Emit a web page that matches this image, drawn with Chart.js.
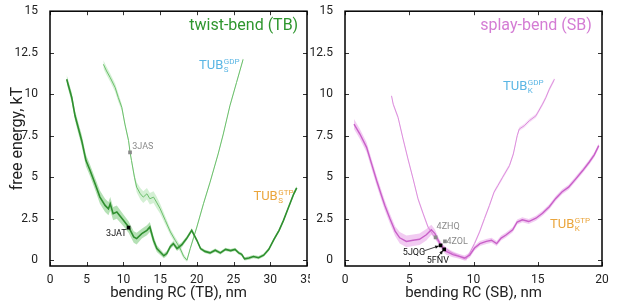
<!DOCTYPE html>
<html>
<head>
<meta charset="utf-8">
<script src="https://cdn.jsdelivr.net/npm/chart.js@4.4.1/dist/chart.umd.min.js"></script>
<style>
  body { margin: 0; background: #fff; }
  .panel { position: absolute; top: 0; height: 308px; overflow: hidden; background: #fff; }
  #tbBox { left: 0; width: 310px; }
  #sbBox { left: 310px; width: 307px; }
</style>
</head>
<body>
<div class="panel" id="tbBox"><canvas id="tb" width="317" height="308"></canvas></div>
<div class="panel" id="sbBox"><canvas id="sb" width="307" height="308"></canvas></div>
<script>
// ---- twist-bend (TB) panel ----
const tbGtpX = [2.27, 2.96, 3.41, 4.32, 4.9, 5.46, 6.14, 6.8, 7.5, 7.96, 8.2, 8.6, 9.1, 10.0, 10.7, 11.4, 11.8, 12.5, 13.2, 13.6, 14.1, 14.55, 15.5, 15.9, 16.4, 16.8, 17.3, 17.96, 18.6, 19.3, 20.0, 20.5, 21.1, 21.8, 22.5, 23.2, 23.9, 24.6, 25.2, 25.7, 26.1, 26.5, 27.1, 27.7, 28.4, 29.1, 29.8, 30.5, 31.2, 31.8, 32.5, 33.2, 33.6];
const tbGtpY = [10.9, 9.8, 8.7, 7.2, 6.0, 5.4, 4.6, 3.8, 3.3, 3.1, 3.4, 2.8, 2.9, 2.4, 2.0, 1.4, 1.3, 1.6, 1.8, 2.0, 1.2, 0.7, 0.27, 0.4, 0.83, 1.0, 0.7, 0.93, 1.3, 1.8, 1.2, 0.7, 0.53, 0.44, 0.6, 0.44, 0.65, 0.58, 0.65, 0.44, 0.35, 0.08, 0.13, 0.22, 0.15, 0.3, 0.65, 1.25, 1.8, 2.4, 3.2, 4.0, 4.35];
const tbGtpErr = [0.25, 0.3, 0.3, 0.35, 0.35, 0.35, 0.35, 0.4, 0.4, 0.4, 0.4, 0.4, 0.4, 0.35, 0.35, 0.35, 0.35, 0.3, 0.3, 0.3, 0.25, 0.2, 0.15, 0.15, 0.15, 0.15, 0.15, 0.15, 0.12, 0.12, 0.1, 0.1, 0.1, 0.1, 0.1, 0.1, 0.1, 0.1, 0.1, 0.1, 0.1, 0.1, 0.1, 0.1, 0.1, 0.1, 0.1, 0.1, 0.1, 0.1, 0.1, 0.12, 0.12];

const tbGdpX = [7.27, 7.7, 8.2, 8.87, 9.3, 9.78, 10.2, 10.7, 10.9, 11.1, 11.5, 11.8, 12.3, 12.7, 13.2, 13.6, 14.1, 14.5, 15.0, 15.7, 16.4, 17.05, 17.7, 18.2, 18.65, 19.1, 19.55, 20.0, 20.9, 21.8, 22.9, 23.6, 24.5, 25.4, 26.3];
const tbGdpY = [11.8, 11.4, 11.0, 10.4, 9.8, 9.2, 8.2, 7.2, 6.5, 6.0, 5.0, 4.4, 4.0, 3.8, 4.0, 3.7, 3.8, 3.5, 3.1, 2.4, 1.7, 1.2, 0.73, 0.23, 0.0, 0.7, 1.35, 2.0, 3.4, 4.7, 6.4, 7.6, 9.3, 10.7, 12.1];
const tbGdpErr = [0.25, 0.25, 0.25, 0.25, 0.25, 0.2, 0.15, 0.15, 0.15, 0.15, 0.2, 0.3, 0.35, 0.35, 0.35, 0.35, 0.35, 0.35, 0.3, 0.25, 0.2, 0.2, 0.2, 0.15, 0.1, 0.1, 0.1, 0.1, 0.1, 0.1, 0.1, 0.1, 0.1, 0.1, 0.1];

const tbMarkGray = [{ x: 10.9, y: 6.5 }];
const tbMarkBlack = [{ x: 10.7, y: 1.96 }];

// ---- splay-bend (SB) panel ----
const sbGtpX = [0.7, 1.16, 1.68, 2.07, 2.46, 2.84, 3.1, 3.5, 3.9, 4.26, 4.78, 5.3, 5.8, 6.33, 6.72, 7.0, 7.24, 7.5, 7.88, 8.4, 8.9, 9.3, 9.7, 10.08, 10.5, 11.0, 11.4, 11.8, 12.15, 12.5, 13.05, 13.4, 13.8, 14.3, 14.86, 15.37, 15.9, 16.4, 16.9, 17.4, 17.96, 18.5, 19.0, 19.4, 19.75];
const sbGtpY = [8.2, 7.6, 6.8, 5.8, 4.8, 3.9, 3.3, 2.5, 1.75, 1.35, 1.13, 1.2, 1.26, 1.53, 1.83, 1.6, 1.23, 0.83, 0.53, 0.33, 0.23, 0.13, 0.3, 0.73, 1.0, 1.13, 1.2, 1.0, 1.33, 1.5, 1.83, 2.3, 2.43, 2.33, 2.53, 2.83, 3.22, 3.72, 4.12, 4.4, 4.9, 5.4, 5.9, 6.35, 6.9];
const sbGtpErr = [0.3, 0.3, 0.3, 0.3, 0.3, 0.3, 0.3, 0.3, 0.3, 0.35, 0.35, 0.35, 0.35, 0.35, 0.3, 0.25, 0.2, 0.2, 0.2, 0.15, 0.15, 0.15, 0.15, 0.15, 0.15, 0.15, 0.15, 0.15, 0.15, 0.15, 0.15, 0.15, 0.15, 0.15, 0.15, 0.15, 0.15, 0.15, 0.15, 0.15, 0.15, 0.15, 0.15, 0.15, 0.15];

const sbGdpX = [3.62, 3.75, 4.13, 4.52, 4.9, 5.3, 5.68, 6.07, 6.46, 6.85, 7.24, 7.6, 8.14, 8.66, 9.17, 9.43, 9.7, 10.08, 10.47, 10.85, 11.24, 11.6, 11.9, 12.27, 12.8, 13.1, 13.4, 13.56, 13.95, 14.34, 14.86, 15.37, 15.63, 15.9, 16.3];
const sbGdpY = [9.9, 9.4, 8.6, 7.3, 6.1, 4.9, 3.7, 2.83, 2.0, 1.53, 1.13, 0.83, 0.53, 0.33, 0.13, 0.07, 0.43, 1.0, 1.7, 2.5, 3.3, 4.1, 4.5, 5.0, 5.7, 6.4, 7.5, 7.9, 8.1, 8.4, 8.7, 9.4, 9.8, 10.3, 10.9];
const sbGdpErr = [0.12, 0.12, 0.12, 0.12, 0.12, 0.12, 0.12, 0.12, 0.12, 0.12, 0.12, 0.12, 0.12, 0.12, 0.12, 0.12, 0.12, 0.12, 0.12, 0.12, 0.12, 0.12, 0.12, 0.12, 0.12, 0.12, 0.12, 0.12, 0.12, 0.12, 0.12, 0.12, 0.12, 0.12, 0.12];

const sbMarkGray = [{ x: 7.05, y: 1.37 }, { x: 7.78, y: 1.13 }];
const sbMarkBlack = [{ x: 7.44, y: 0.89 }, { x: 7.72, y: 0.65 }];

const yTickStep = 2.5;
const xTickStep = 5;

// text placed in data units
const tbLabels = [
  { text: 'twist-bend (TB)', x: 33.8, y: 14.1, color: '#2e962e', size: 16, align: 'right' },
  { text: 'TUB', sub: 'S', sup: 'GDP', x: 20.3, y: 11.5, color: '#5ab6e4', size: 13 },
  { text: 'TUB', sub: 'S', sup: 'GTP', x: 27.7, y: 3.62, color: '#eaa53c', size: 13 },
  { text: '3JAS', x: 11.2, y: 6.86, color: '#8a8a8a', size: 9 },
  { text: '3JAT', x: 7.64, y: 1.59, color: '#111', size: 9 }
];
const sbLabels = [
  { text: 'splay-bend (SB)', x: 19.2, y: 14.1, color: '#d47cd4', size: 16, align: 'right' },
  { text: 'TUB', sub: 'K', sup: 'GDP', x: 12.3, y: 10.25, color: '#5ab6e4', size: 13 },
  { text: 'TUB', sub: 'K', sup: 'GTP', x: 15.95, y: 1.93, color: '#eaa53c', size: 13 },
  { text: '4ZHQ', x: 7.13, y: 2.0, color: '#8a8a8a', size: 9 },
  { text: '4ZOL', x: 7.9, y: 1.1, color: '#8a8a8a', size: 9 },
  { text: '5JQG', x: 4.5, y: 0.45, color: '#111', size: 9 },
  { text: '5FNV', x: 6.36, y: -0.03, color: '#111', size: 9 }
];
const sbArrows = [
  { from: [6.1, 0.55], to: [7.3, 0.86] },
  { from: [7.2, 0.18], to: [7.62, 0.58] }
];

const FONT = "Roboto, 'Liberation Sans', sans-serif";

function pts(xs, ys, err, sign) {
  return xs.map((x, i) => ({ x: x, y: ys[i] + (err ? sign * err[i] : 0) }));
}

function curve(xs, ys, err, line, band, width) {
  return [
    { data: pts(xs, ys, err, 1), borderWidth: 0, pointRadius: 0, fill: '+1', backgroundColor: band, order: 5 },
    { data: pts(xs, ys, err, -1), borderWidth: 0, pointRadius: 0, fill: false, order: 5 },
    { data: pts(xs, ys), borderColor: line, borderWidth: width, pointRadius: 0, fill: false, order: 2 }
  ];
}

function markers(data, color) {
  return { type: 'scatter', data: data, pointStyle: 'rect', pointRadius: 2.6, backgroundColor: color, borderColor: color, borderWidth: 0, order: 0 };
}

// frame, inside tick marks, text labels and arrows
const decor = {
  id: 'decor',
  afterDraw(chart, args, opts) {
    const { ctx, chartArea: a, scales: { x, y } } = chart;
    ctx.save();
    ctx.strokeStyle = '#333';
    ctx.lineWidth = 1;
    ctx.beginPath();
    x.ticks.forEach(t => {
      const px = Math.round(x.getPixelForValue(t.value)) + 0.5;
      ctx.moveTo(px, a.bottom); ctx.lineTo(px, a.bottom - 4);
      ctx.moveTo(px, a.top); ctx.lineTo(px, a.top + 4);
    });
    y.ticks.forEach(t => {
      const py = Math.round(y.getPixelForValue(t.value)) + 0.5;
      ctx.moveTo(a.left, py); ctx.lineTo(a.left + 4, py);
      ctx.moveTo(a.right, py); ctx.lineTo(a.right - 4, py);
    });
    ctx.stroke();
    ctx.strokeStyle = '#000';
    ctx.lineWidth = 1.5;
    ctx.strokeRect(a.left, a.top, a.right - a.left, a.bottom - a.top);

    (opts.arrows || []).forEach(ar => {
      const x0 = x.getPixelForValue(ar.from[0]), y0 = y.getPixelForValue(ar.from[1]);
      const x1 = x.getPixelForValue(ar.to[0]), y1 = y.getPixelForValue(ar.to[1]);
      const ang = Math.atan2(y1 - y0, x1 - x0);
      ctx.strokeStyle = '#111';
      ctx.fillStyle = '#111';
      ctx.lineWidth = 0.8;
      ctx.beginPath(); ctx.moveTo(x0, y0); ctx.lineTo(x1, y1); ctx.stroke();
      ctx.beginPath();
      ctx.moveTo(x1, y1);
      ctx.lineTo(x1 - 4 * Math.cos(ang - 0.45), y1 - 4 * Math.sin(ang - 0.45));
      ctx.lineTo(x1 - 4 * Math.cos(ang + 0.45), y1 - 4 * Math.sin(ang + 0.45));
      ctx.closePath(); ctx.fill();
    });

    (opts.labels || []).forEach(l => {
      const px = x.getPixelForValue(l.x), py = y.getPixelForValue(l.y);
      ctx.fillStyle = l.color;
      ctx.font = l.size + 'px ' + FONT;
      if (l.sub) {
        ctx.textAlign = 'left';
        ctx.textBaseline = 'alphabetic';
        ctx.fillText(l.text, px, py);
        const w = ctx.measureText(l.text).width + 0.5;
        ctx.font = '8px ' + FONT;
        ctx.fillText(l.sup, px + w, py - 5);
        ctx.fillText(l.sub, px + w, py + 3);
      } else {
        ctx.textAlign = l.align || 'left';
        ctx.textBaseline = 'middle';
        ctx.fillText(l.text, px, py);
      }
    });
    ctx.restore();
  }
};

function makeChart(id, cfg) {
  return new Chart(document.getElementById(id), {
    type: 'line',
    data: { datasets: cfg.datasets },
    plugins: [decor],
    options: {
      responsive: false,
      animation: false,
      layout: { padding: { top: 10, right: cfg.padRight, bottom: 0, left: 0 } },
      plugins: {
        legend: { display: false },
        tooltip: { enabled: false },
        decor: { labels: cfg.labels, arrows: cfg.arrows }
      },
      elements: { line: { tension: 0 } },
      scales: {
        x: {
          type: 'linear', min: 0, max: cfg.xMax,
          grid: { display: false },
          border: { display: false },
          ticks: { stepSize: xTickStep, padding: -1, color: '#222', font: { family: FONT, size: 12 }, maxRotation: 0 },
          title: { display: true, text: cfg.xTitle, color: '#222', font: { family: FONT, size: 15 }, padding: { top: 0, bottom: 6 } },
          afterFit: s => { s.height = 42; }
        },
        y: {
          min: -0.35, max: 15,
          grid: { display: false },
          border: { display: false },
          ticks: { stepSize: yTickStep, includeBounds: false, padding: 4, color: '#222', font: { family: FONT, size: 12 } },
          title: { display: !!cfg.yTitle, text: cfg.yTitle || '', color: '#222', font: { family: FONT, size: 16 }, padding: { top: 8, bottom: 0 } },
          afterFit: s => { s.width = cfg.yWidth; }
        }
      }
    }
  });
}

makeChart('tb', {
  xMax: 35, padRight: 10, yWidth: 50,
  xTitle: 'bending RC (TB), nm', yTitle: 'free energy, kT',
  labels: tbLabels,
  datasets: [
    markers(tbMarkBlack, '#000'),
    markers(tbMarkGray, '#8a8a8a'),
    ...curve(tbGtpX, tbGtpY, tbGtpErr, '#2f8f2f', 'rgba(120,200,120,0.55)', 1.6),
    ...curve(tbGdpX, tbGdpY, tbGdpErr, '#6cbf6c', 'rgba(170,225,170,0.5)', 1)
  ]
});

makeChart('sb', {
  xMax: 20, padRight: 15, yWidth: 35,
  xTitle: 'bending RC (SB), nm',
  labels: sbLabels, arrows: sbArrows,
  datasets: [
    markers(sbMarkBlack, '#000'),
    markers(sbMarkGray, '#8a8a8a'),
    ...curve(sbGtpX, sbGtpY, sbGtpErr, '#c860c8', 'rgba(232,160,232,0.55)', 1.4),
    ...curve(sbGdpX, sbGdpY, sbGdpErr, '#dc8fdc', 'rgba(238,185,238,0.45)', 1)
  ]
});
</script>
</body>
</html>
